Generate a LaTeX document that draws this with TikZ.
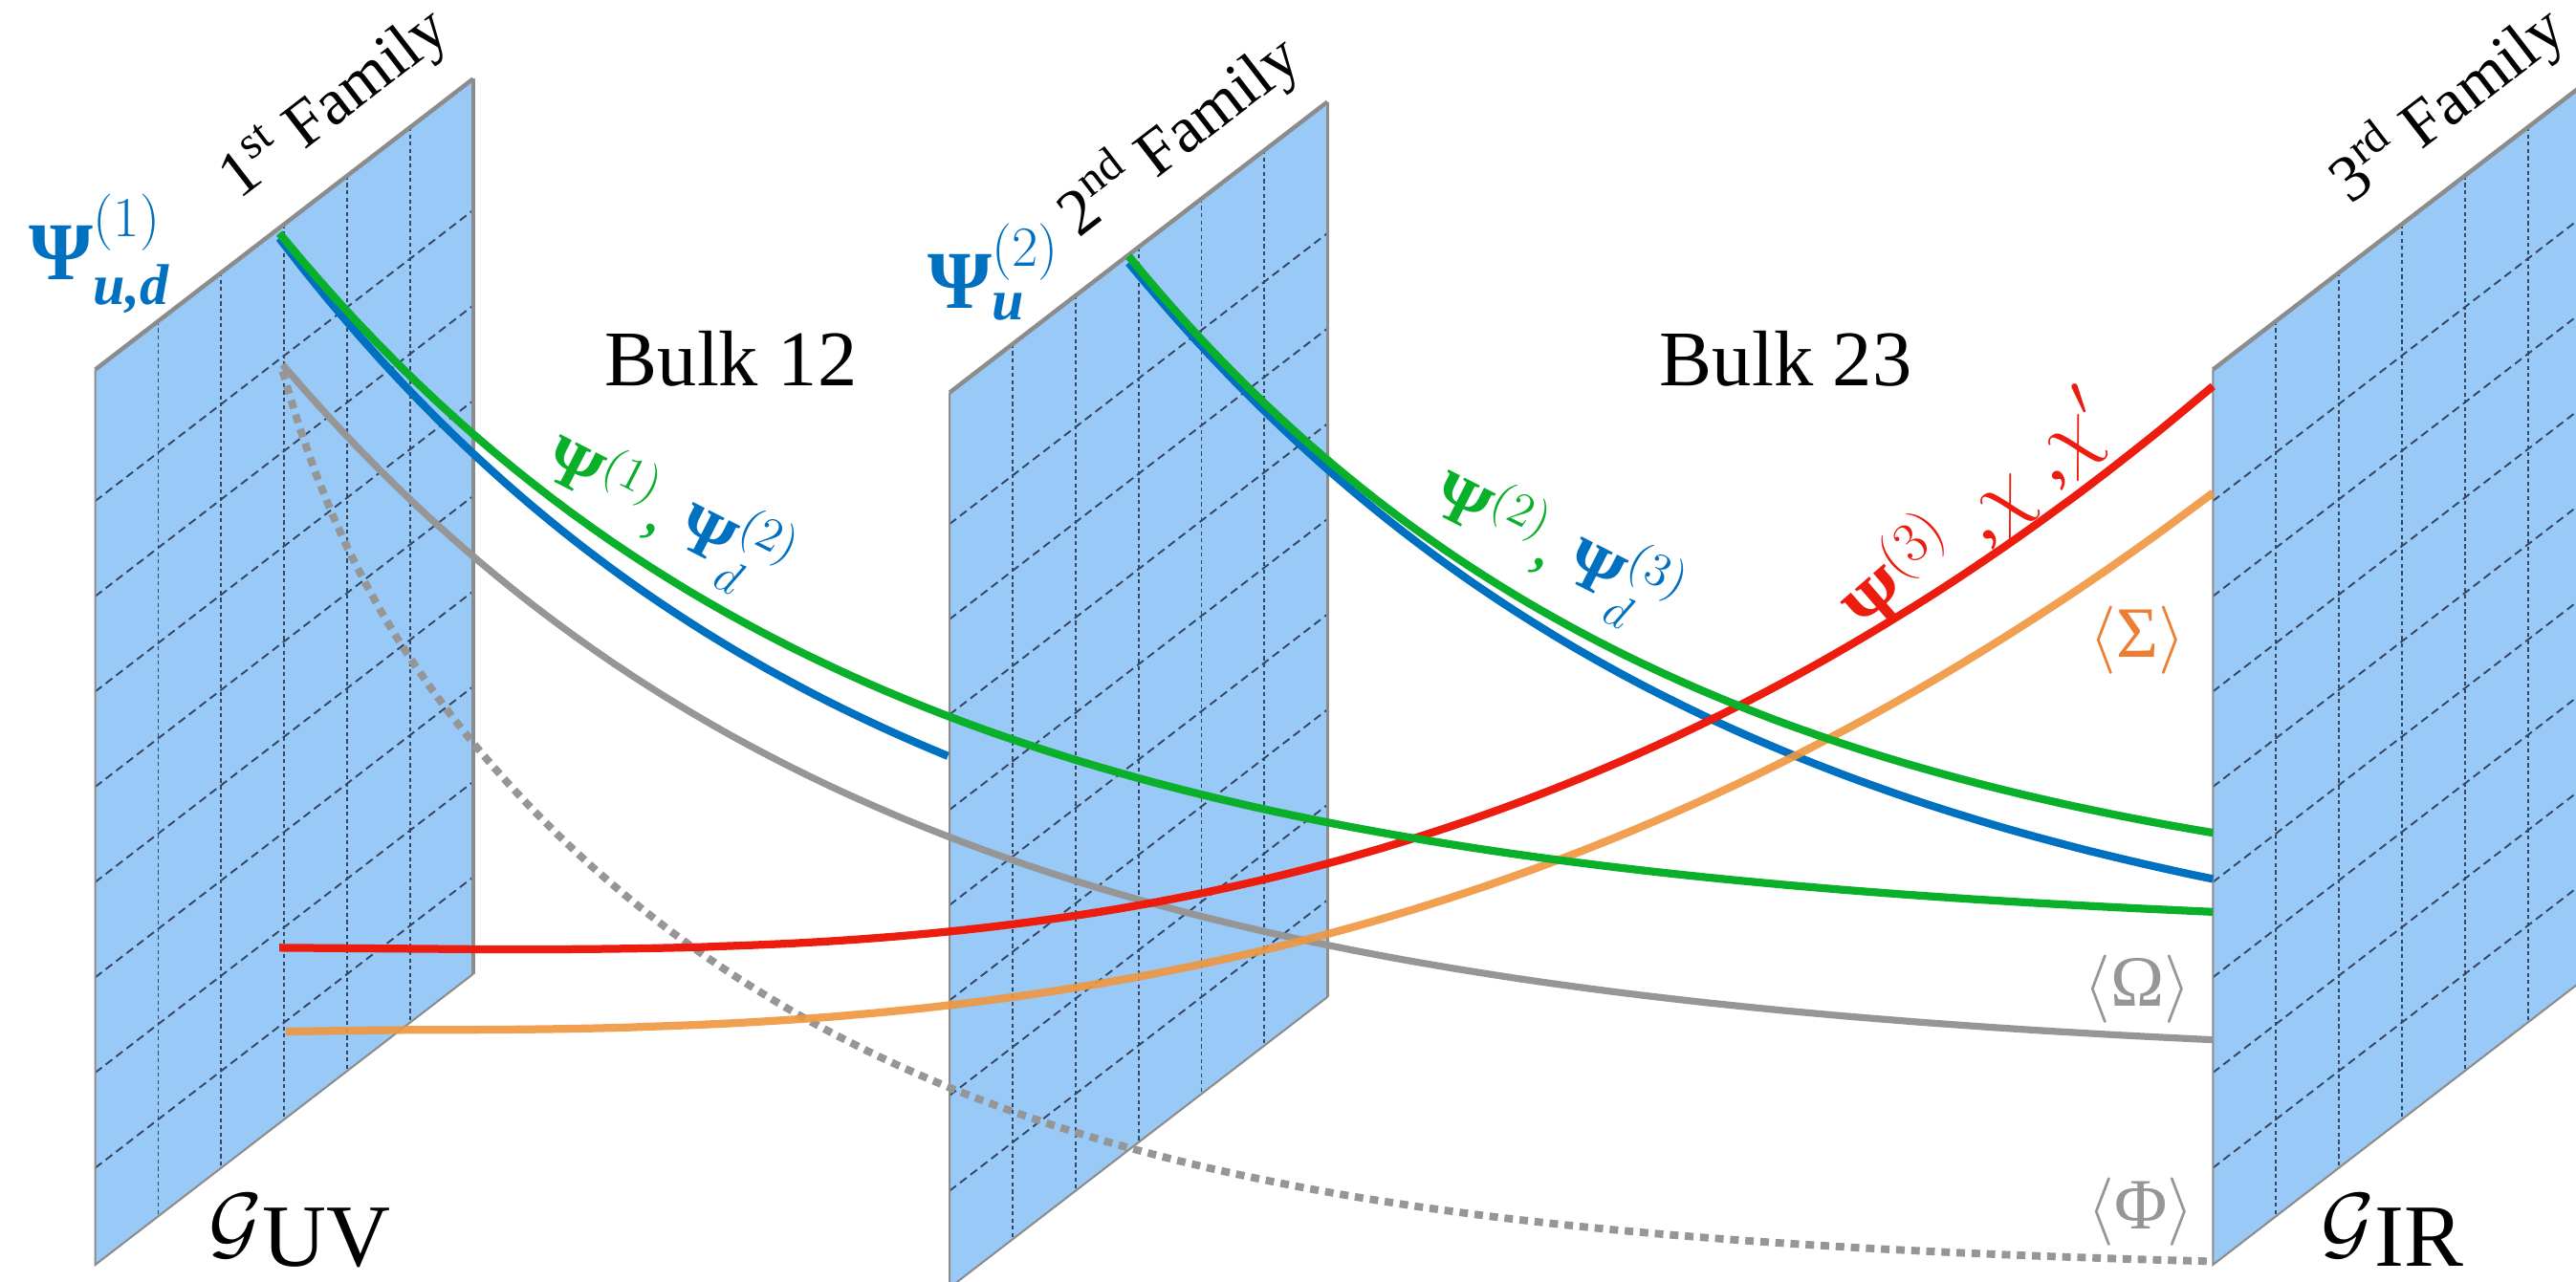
\documentclass[tikz,border=0pt]{standalone}
\usepackage{amsmath}
\usepackage{fontspec}
\setmainfont{Liberation Serif}
\definecolor{planeblue}{RGB}{152,201,247}
\definecolor{gridc}{RGB}{55,70,95}
\definecolor{edgec}{RGB}{140,140,140}
\definecolor{cgreen}{RGB}{10,176,42}
\definecolor{cblue}{RGB}{0,112,192}
\definecolor{cred}{RGB}{236,28,14}
\definecolor{corange}{RGB}{240,150,62}
\definecolor{torange}{RGB}{237,125,49}
\definecolor{cgray}{RGB}{150,150,150}
\newcommand\myfs[1]{\fontsize{#1}{#1}\selectfont}
\tikzset{
  gridv/.style={draw=gridc, line width=0.55pt, dash pattern=on 1.2pt off 1pt},
  gridd/.style={draw=gridc, line width=0.55pt, dash pattern=on 2.5pt off 1.5pt},
  planeedge/.style={draw=edgec, line width=0.6pt},
  planeedgeR/.style={draw=edgec, line width=1pt},
  topedge/.style={draw=edgec, line width=1.3pt},
  curve/.style={line width=2.4pt},
  lbl/.style={inner sep=0pt, outer sep=0pt},
}
\newcommand\myplane[2]{%
  \begin{scope}[shift={(#1,#2)}]
    \fill[planeblue] (0,0) -- (230,-177) -- (230,368) -- (0,545) -- cycle;
    \foreach \k in {1,...,5} \draw[gridv] ({\k*230/6},{-\k*177/6}) -- ({\k*230/6},{545-\k*177/6});
    \foreach \v in {80,138,196,254,312,370,428,486} \draw[gridd] (0,\v) -- (230,{\v-177});
    \draw[planeedge] (0,0) -- (0,545) -- (230,368);
    \draw[planeedgeR] (230,368) -- (230,-177);
    \draw[topedge] (0,0) -- (230,-177);
  \end{scope}}
\begin{document}
\begin{tikzpicture}[x=0.5pt,y=-0.5pt]
\useasboundingbox (0,0) rectangle (1568,780);
\myplane{58}{225}
\myplane{578}{239}
\myplane{1347}{225}

% gray dotted <Phi>
\draw[cgray, line width=2.3pt, dash pattern=on 2.6pt off 2pt]
  plot[domain=172:1347, samples=120] (\x,{775-487*exp(-0.0036*(\x-172))-62*exp(-0.03*(\x-172))});
% gray solid <Omega>
\draw[cgray, line width=2.1pt]
  plot[domain=172:1347, samples=100] (\x,{650-428*exp(-0.002746*(\x-172))});
% blue curves
\draw[cblue, curve] plot[domain=170:577, samples=60] (\x,{604-459*exp(-0.00285*(\x-170))});
\draw[cblue, curve] plot[domain=687:1347, samples=80] (\x,{611-451*exp(-0.0027*(\x-687))});
% orange <Sigma>
\draw[corange, curve, draw opacity=0.9] (174,628) -- (251,627)
  -- plot[domain=251:1347, samples=100] (\x,{627-327*pow((\x-250)/1097,2.55)});
% red
\draw[cred, curve] (170,577) -- (301,578)
  -- plot[domain=301:1347, samples=100] (\x,{578-343*pow((\x-300)/1047,2.6)});
% green curves
\draw[cgreen, curve] plot[domain=170:1347, samples=100] (\x,{570-428*exp(-0.00285*(\x-170))});
\draw[cgreen, curve] plot[domain=687:1347, samples=80] (\x,{563-407*exp(-0.003*(\x-687))});

% labels
\node[lbl, anchor=base west, text=cblue, font=\myfs{25}] (psi1) at (18,170)
  {$\text{\bfseries Ψ}^{(1)}_{\text{\bfseries\itshape u,d}}$};
\node[lbl, anchor=base west, text=cblue, font=\myfs{25}] (psi2) at (565,188)
  {$\text{\bfseries Ψ}^{(2)}_{\text{\bfseries\itshape u}}$};
\node[lbl, anchor=base west, rotate=37.6, font=\myfs{20}] (fam1) at (146,122) {1\textsuperscript{st} Family};
\node[lbl, anchor=base west, rotate=37.6, font=\myfs{20}] (fam2) at (657,145) {2\textsuperscript{nd} Family};
\node[lbl, anchor=base west, rotate=37.6, font=\myfs{20}] (fam3) at (1431,125) {3\textsuperscript{rd} Family};
\node[lbl, anchor=base, font=\myfs{24}] (bulk12) at (445,235) {Bulk 12};
\node[lbl, anchor=base, font=\myfs{24}] (bulk23) at (1087,235) {Bulk 23};
\node[lbl, rotate=-27, font=\myfs{21}] (lab12) at (407,312)
  {\color{cgreen}$\text{\bfseries Ψ}^{(1)}$, \color{cblue}$\text{\bfseries Ψ}^{(2)}_{d}$};
\node[lbl, rotate=-27, font=\myfs{21}] (lab23) at (948,333)
  {\color{cgreen}$\text{\bfseries Ψ}^{(2)}$, \color{cblue}$\text{\bfseries Ψ}^{(3)}_{d}$};
\node[lbl, rotate=41, font=\myfs{23}, text=cred] (lab3) at (1203,312)
  {$\text{\bfseries Ψ}^{(3)}$\;,$\chi$\;,$\chi'$};
\node[lbl, text=torange, font=\myfs{22}] (sigma) at (1301,390) {$\langle$Σ$\rangle$};
\node[lbl, text=cgray, font=\myfs{22}] (omega) at (1301,602) {$\langle$Ω$\rangle$};
\node[lbl, text=cgray, font=\myfs{22}] (phi) at (1303,738) {$\langle$Φ$\rangle$};
\node[lbl, anchor=base west, font=\myfs{35}] (guv) at (127,761)
  {$\mathcal{G}$\raisebox{-0.14em}{\myfs{27}UV}};
\node[lbl, anchor=base west, font=\myfs{35}] (gir) at (1413,761)
  {$\mathcal{G}$\raisebox{-0.14em}{\myfs{27}IR}};
\end{tikzpicture}
\end{document}
